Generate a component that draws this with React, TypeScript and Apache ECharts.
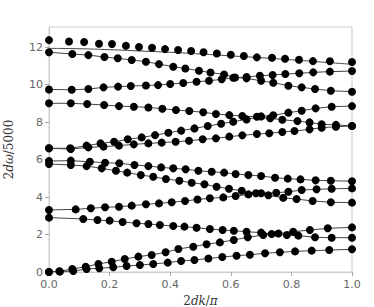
import React, { useEffect, useRef } from "react";
import * as echarts from "echarts";

const yTicks = [0, 2, 4, 6, 8, 10, 12];
const xTicks = [0, 0.2, 0.4, 0.6, 0.8, 1.0];

const theoryTopX = [0, 0.1, 0.2, 0.3, 0.4, 0.5, 0.6, 0.7, 0.8, 0.9, 1.0];
const theoryTopY = [11.93, 11.91, 11.86, 11.79, 11.72, 11.63, 11.53, 11.43, 11.32, 11.2, 11.08];

const band1X = [0, 0.066, 0.116, 0.165, 0.208, 0.254, 0.297, 0.34, 0.383, 0.426, 0.469, 0.51, 0.554, 0.6, 0.643, 0.686, 0.736, 0.779, 0.825, 0.871, 0.927, 1.0];
const band1Y = [12.37, 12.3, 12.27, 12.18, 12.16, 12.07, 12.0, 11.96, 11.89, 11.84, 11.79, 11.72, 11.66, 11.59, 11.52, 11.45, 11.43, 11.38, 11.32, 11.25, 11.24, 11.2];

const band2X = [0, 0.077, 0.13, 0.183, 0.227, 0.273, 0.32, 0.363, 0.41, 0.45, 0.495, 0.533, 0.578, 0.614, 0.652, 0.7, 0.74, 0.79, 0.834, 0.878, 0.93, 1.0];
const band2Y = [11.72, 11.63, 11.57, 11.47, 11.4, 11.31, 11.22, 11.09, 10.95, 10.86, 10.74, 10.64, 10.54, 10.38, 10.33, 10.2, 10.1, 9.94, 9.85, 9.76, 9.67, 9.62];

const band3X = [0, 0.075, 0.13, 0.18, 0.228, 0.27, 0.32, 0.36, 0.4, 0.443, 0.487, 0.528, 0.57, 0.608, 0.652, 0.696, 0.738, 0.78, 0.826, 0.872, 0.927, 1.0];
const band3Y = [9.74, 9.72, 9.76, 9.85, 9.89, 9.92, 9.95, 9.97, 10.03, 10.08, 10.15, 10.2, 10.28, 10.36, 10.4, 10.47, 10.51, 10.56, 10.6, 10.65, 10.69, 10.72];

const band4X = [0, 0.072, 0.126, 0.182, 0.231, 0.28, 0.328, 0.374, 0.419, 0.463, 0.509, 0.551, 0.595, 0.638, 0.686, 0.73, 0.77, 0.82, 0.86, 0.9, 0.947, 1.0];
const band4Y = [9.0, 9.0, 8.96, 8.91, 8.85, 8.82, 8.78, 8.71, 8.64, 8.59, 8.52, 8.43, 8.37, 8.32, 8.28, 8.2, 8.12, 8.05, 7.98, 7.88, 7.85, 7.79];

const band5X = [0, 0.07, 0.124, 0.17, 0.215, 0.26, 0.306, 0.35, 0.394, 0.436, 0.48, 0.524, 0.568, 0.608, 0.652, 0.7, 0.74, 0.79, 0.834, 0.88, 0.933, 1.0];
const band5Y = [6.6, 6.6, 6.74, 6.86, 6.95, 7.08, 7.18, 7.3, 7.43, 7.54, 7.66, 7.79, 7.91, 8.02, 8.14, 8.3, 8.36, 8.5, 8.6, 8.73, 8.82, 8.85];

const band6X = [0, 0.072, 0.13, 0.18, 0.231, 0.28, 0.328, 0.372, 0.418, 0.462, 0.507, 0.551, 0.595, 0.638, 0.686, 0.727, 0.77, 0.81, 0.86, 0.9, 0.947, 1.0];
const band6Y = [6.6, 6.56, 6.65, 6.69, 6.74, 6.81, 6.86, 6.9, 6.95, 7.0, 7.08, 7.13, 7.22, 7.29, 7.36, 7.4, 7.47, 7.52, 7.61, 7.7, 7.75, 7.79];

const band7X = [0, 0.072, 0.135, 0.185, 0.232, 0.282, 0.328, 0.37, 0.41, 0.451, 0.493, 0.537, 0.578, 0.616, 0.658, 0.7, 0.746, 0.788, 0.83, 0.88, 0.93, 1.0];
const band7Y = [5.92, 5.94, 5.88, 5.83, 5.8, 5.71, 5.65, 5.58, 5.53, 5.48, 5.4, 5.35, 5.3, 5.23, 5.17, 5.12, 5.03, 4.98, 4.94, 4.89, 4.87, 4.84];

const band8X = [0, 0.072, 0.124, 0.174, 0.221, 0.258, 0.303, 0.344, 0.386, 0.43, 0.471, 0.513, 0.553, 0.594, 0.636, 0.683, 0.724, 0.773, 0.817, 0.87, 0.93, 1.0];
const band8Y = [5.76, 5.71, 5.65, 5.53, 5.4, 5.3, 5.17, 5.08, 4.96, 4.87, 4.76, 4.68, 4.55, 4.44, 4.33, 4.2, 4.09, 3.96, 3.89, 3.79, 3.72, 3.7];

const band9X = [0, 0.088, 0.138, 0.185, 0.231, 0.273, 0.32, 0.363, 0.405, 0.449, 0.49, 0.531, 0.575, 0.616, 0.658, 0.7, 0.75, 0.79, 0.834, 0.883, 0.933, 1.0];
const band9Y = [3.31, 3.34, 3.4, 3.45, 3.48, 3.54, 3.61, 3.66, 3.72, 3.79, 3.87, 3.93, 3.98, 4.05, 4.14, 4.2, 4.23, 4.28, 4.37, 4.41, 4.44, 4.46];

const band10X = [0, 0.113, 0.16, 0.2, 0.243, 0.289, 0.328, 0.366, 0.41, 0.447, 0.487, 0.531, 0.573, 0.61, 0.652, 0.7, 0.735, 0.785, 0.823, 0.878, 0.933, 1.0];
const band10Y = [2.9, 2.83, 2.77, 2.74, 2.67, 2.6, 2.56, 2.51, 2.45, 2.42, 2.36, 2.29, 2.24, 2.2, 2.15, 2.1, 2.03, 1.97, 1.94, 1.85, 1.83, 1.83];

const band11X = [0, 0.034, 0.077, 0.121, 0.163, 0.207, 0.25, 0.295, 0.339, 0.385, 0.427, 0.476, 0.52, 0.564, 0.61, 0.656, 0.707, 0.757, 0.806, 0.861, 0.92, 1.0];
const band11Y = [0, 0.04, 0.16, 0.28, 0.43, 0.55, 0.69, 0.82, 0.91, 1.05, 1.23, 1.35, 1.48, 1.58, 1.71, 1.85, 1.97, 2.05, 2.15, 2.24, 2.33, 2.38];

const band12X = [0, 0.036, 0.08, 0.124, 0.166, 0.212, 0.256, 0.3, 0.344, 0.392, 0.436, 0.48, 0.526, 0.572, 0.619, 0.663, 0.713, 0.762, 0.812, 0.867, 0.925, 1.0];
const band12Y = [0, 0.02, 0.05, 0.16, 0.2, 0.25, 0.32, 0.37, 0.43, 0.5, 0.59, 0.64, 0.72, 0.8, 0.87, 0.92, 1.0, 1.05, 1.1, 1.14, 1.17, 1.21];

const bands: [number[], number[]][] = [
  [band2X, band2Y], [band3X, band3Y], [band4X, band4Y], [band5X, band5Y],
  [band6X, band6Y], [band7X, band7Y], [band8X, band8Y], [band9X, band9Y],
  [band10X, band10Y], [band11X, band11Y], [band12X, band12Y],
];

const zip = (xs: number[], ys: number[]) => xs.map((x, i) => [x, ys[i]]);

export default function App() {
  const ref = useRef<HTMLDivElement>(null);
  useEffect(() => {
    if (!ref.current) return;
    const chart = echarts.init(ref.current, null, { renderer: "svg" });
    const lineStyle = { color: "#444", width: 1 };
    const series: any[] = [];
    series.push({
      type: "line", data: zip(theoryTopX, theoryTopY), showSymbol: false, symbol: "none",
      smooth: true, lineStyle, z: 2,
    });
    series.push({
      type: "scatter", data: zip(band1X, band1Y), symbol: "circle", symbolSize: 8,
      itemStyle: { color: "#000", opacity: 1 }, z: 3,
    });
    bands.forEach(([xs, ys]) => {
      series.push({
        type: "line", data: zip(xs, ys), symbol: "circle", symbolSize: 8, showSymbol: true,
        lineStyle, itemStyle: { color: "#000", borderWidth: 0, opacity: 1 }, z: 2,
      });
    });
    const labelStyle = { color: "#666", fontFamily: "DejaVu Sans", fontSize: 11 };
    const nameStyle = {
      fontSize: 12, color: "#333", fontFamily: "DejaVu Serif",
      rich: {
        n: { fontSize: 12, fontFamily: "DejaVu Serif", color: "#333" },
        i: { fontSize: 12, fontFamily: "DejaVu Serif", fontStyle: "italic", color: "#333" },
      },
    };
    chart.setOption({
      animation: false,
      grid: {
        left: 49, right: 22, top: 27, bottom: 35, show: true,
        containLabel: false, outerBoundsMode: "none",
        borderColor: "#ccc", borderWidth: 1, backgroundColor: "transparent",
      },
      xAxis: {
        type: "value", min: 0, max: 1, interval: 0.2,
        name: "{n|2}{i|dk}{n|/}{i|π}",
        nameLocation: "middle", nameGap: 18,
        nameTextStyle: nameStyle,
        axisLine: { show: true, lineStyle: { color: "#ccc" } },
        axisTick: { show: true, length: 4, lineStyle: { color: "#aaa" }, customValues: xTicks },
        axisLabel: { ...labelStyle, margin: 7, customValues: xTicks, formatter: (v: number) => v.toFixed(1) },
        splitLine: { show: false },
      },
      yAxis: {
        type: "value", min: 0, max: 13.07, interval: 2,
        name: "{n|2}{i|dω}{n|/5000}",
        nameLocation: "middle", nameGap: 34, nameRotate: 90,
        nameTextStyle: nameStyle,
        axisLine: { show: true, lineStyle: { color: "#ccc" } },
        axisTick: { show: true, length: 4, lineStyle: { color: "#aaa" }, customValues: yTicks },
        axisLabel: { ...labelStyle, margin: 6, customValues: yTicks },
        splitLine: { show: false },
      },
      series,
    });
    return () => chart.dispose();
  }, []);
  return <div ref={ref} style={{ width: 374, height: 307, position: "absolute", left: 0, top: 0 }} />;
}
